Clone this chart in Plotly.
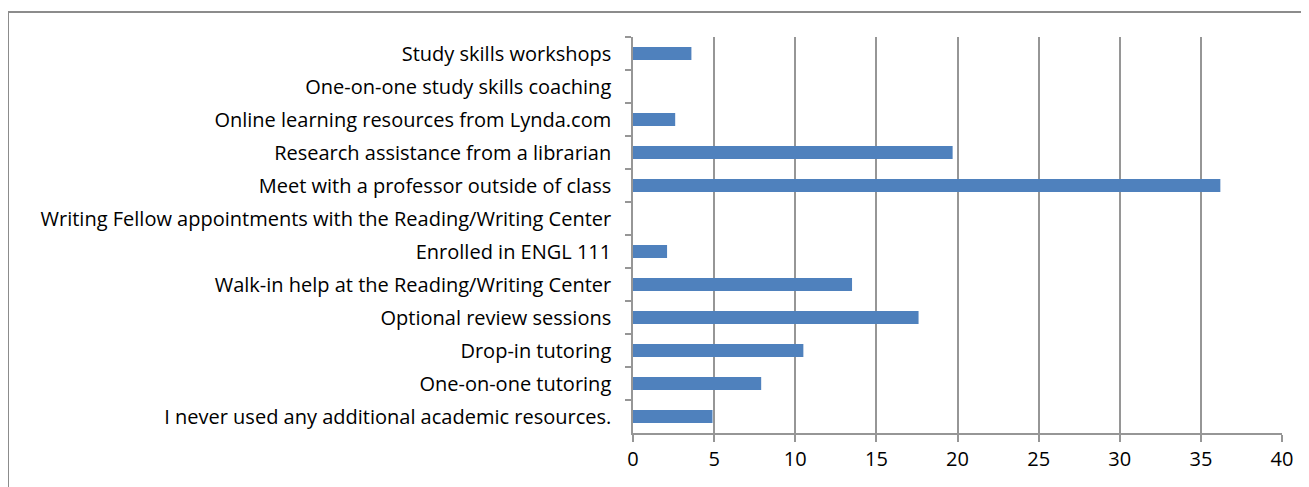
import plotly.graph_objects as go

categories = [
    "Study skills workshops",
    "One-on-one study skills coaching",
    "Online learning resources from Lynda.com",
    "Research assistance from a librarian",
    "Meet with a professor outside of class",
    "Writing Fellow appointments with the Reading/Writing Center",
    "Enrolled in ENGL 111",
    "Walk-in help at the Reading/Writing Center",
    "Optional review sessions",
    "Drop-in tutoring",
    "One-on-one tutoring",
    "I never used any additional academic resources.",
]
values = [3.6, 0, 2.6, 19.7, 36.2, 0, 2.1, 13.5, 17.6, 10.5, 7.9, 4.9]
x_ticks = [0, 5, 10, 15, 20, 25, 30, 35, 40]

# page body has an 8px default margin; compensate
OFF = 8
W, H = 1309 - OFF, 487 - OFF
ml, mr, mt, mb = 633 - OFF, 27, 37 - OFF, 54
pw, ph = W - ml - mr, H - mt - mb

fig = go.Figure(go.Bar(
    x=values, y=categories, orientation="h",
    marker=dict(color="#4F81BD", line=dict(width=0)),
    width=0.4,
))

fig.update_layout(
    width=W, height=H,
    margin=dict(l=ml, r=mr, t=mt, b=mb, pad=0),
    paper_bgcolor="white", plot_bgcolor="white",
    font=dict(family="Open Sans, Lato, sans-serif", size=20, color="black"),
    showlegend=False,
    bargap=0.6,
)
fig.update_xaxes(
    range=[0, 40], tickvals=x_ticks, ticktext=[str(v) for v in x_ticks],
    showgrid=True, gridcolor="#969696", gridwidth=1.5,
    showline=True, linecolor="#969696", linewidth=1.5,
    ticks="outside", ticklen=7, tickcolor="#969696", tickwidth=1.5,
    zeroline=False, fixedrange=True,
)
fig.update_yaxes(
    categoryorder="array", categoryarray=categories, autorange="reversed",
    tickson="boundaries", showgrid=False,
    showline=True, linecolor="#969696", linewidth=1.5,
    ticks="outside", ticklen=6, tickcolor="#969696", tickwidth=1.5,
    ticklabelstandoff=16,
    fixedrange=True,
)

# outer chart frame
x0 = (8 - 633) / pw
y0 = 1 + (37 - 12) / ph
fig.add_shape(type="line", xref="paper", yref="paper", x0=x0, x1=x0, y0=y0, y1=-0.5,
              line=dict(color="#8C8C8C", width=2))
fig.add_shape(type="line", xref="paper", yref="paper", x0=x0, x1=2, y0=y0, y1=y0,
              line=dict(color="#8C8C8C", width=2))

fig.write_html("out.html")
